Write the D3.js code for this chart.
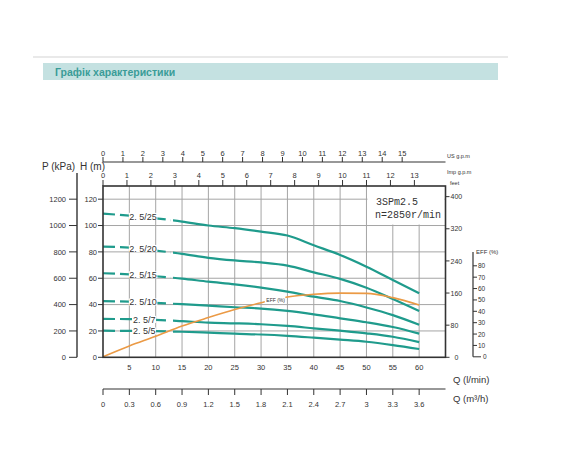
<!DOCTYPE html>
<html>
<head>
<meta charset="utf-8">
<script src="https://cdn.jsdelivr.net/npm/d3@7"></script>
<style>
  body { margin: 0; background: #fff; }
  text { font-family: "Liberation Sans", Arial, sans-serif; fill: #333; }
</style>
</head>
<body>
<div id="chart"></div>
<script>
// flow points (l/min) at which the curves were read
const flow = [0, 5, 10, 15, 20, 25, 30, 35, 40, 45, 50, 55, 60];

// head curves (m) per model
const models = ["2. 5/25", "2. 5/20", "2. 5/15", "2. 5/10", "2. 5/7", "2. 5/5"];
const head25 = [109, 107.5, 105.5, 103, 100, 98, 95.4, 92.4, 85, 77.7, 68.8, 58.7, 48.6];
const head20 = [84, 83.2, 81, 78.5, 75.5, 73.5, 72, 69.6, 64.5, 59.5, 52.8, 44.3, 35.2];
const head15 = [63.8, 63, 61.5, 59.7, 57.4, 55.4, 52.9, 49.8, 46, 42.7, 37.8, 32, 24.7];
const head10 = [42.7, 42.2, 41.3, 40.3, 39.2, 38, 37, 35.2, 32.6, 29.6, 26.6, 23, 18];
const head7 = [29.1, 29, 28.4, 27.4, 26.3, 25.8, 25.1, 23.8, 22, 20.2, 18.2, 15.6, 11.5];
const head5 = [20.2, 20, 19.8, 19.4, 18.7, 17.9, 17.3, 16.3, 14.9, 13.4, 11.8, 9.3, 6.3];
const heads = [head25, head20, head15, head10, head7, head5];
const labelFlow = [5.0, 5.0, 5.0, 5.0, 5.7, 5.7];

// efficiency (%)
const eff = [0, 9.5, 18, 27, 34.5, 41.5, 47.5, 52.5, 55, 56, 55.8, 52, 45.5];

// tick values
const qTicks = [5, 10, 15, 20, 25, 30, 35, 40, 45, 50, 55, 60];
const hTicks = [0, 20, 40, 60, 80, 100, 120];
const pTicks = [0, 200, 400, 600, 800, 1000, 1200];
const feetTicks = [0, 80, 160, 240, 320, 400];
const effTicks = [0, 10, 20, 30, 40, 50, 60, 70, 80];
const usTicks = d3.range(0, 16);
const impTicks = d3.range(0, 14);
const m3Ticks = [0, 0.3, 0.6, 0.9, 1.2, 1.5, 1.8, 2.1, 2.4, 2.7, 3, 3.3, 3.6];

const W = 570, H = 458;
const teal = "#1f9b8c", orange = "#eb9a45", frame = "#333";

const svg = d3.select("#chart").append("svg")
    .attr("width", W).attr("height", H);

// header
svg.append("line").attr("x1", 33).attr("x2", 508).attr("y1", 57).attr("y2", 57)
    .attr("stroke", "#e2e2e2").attr("stroke-width", 1.5);
svg.append("rect").attr("x", 43).attr("y", 63).attr("width", 455).attr("height", 17)
    .attr("fill", "#c4e1e1");
svg.append("text").attr("x", 55).attr("y", 75.5)
    .style("font-size", "10.5px").style("font-weight", "bold").style("fill", "#3a9c98")
    .text("Графік характеристики");

// scales
const x = d3.scaleLinear().domain([0, 65]).range([103, 445.5]);
const y = d3.scaleLinear().domain([0, 130]).range([357.3, 186]);
const yP = d3.scaleLinear().domain([0, 1300]).range(y.range());
const yF = d3.scaleLinear().domain([0, 130 * 3.2808]).range(y.range());
const yE = d3.scaleLinear().domain([0, 80]).range([356.8, 265.8]);
const xUS = d3.scaleLinear().domain([0, 65 / 3.785]).range(x.range());
const xImp = d3.scaleLinear().domain([0, 65 / 4.546]).range(x.range());
const xM3 = d3.scaleLinear().domain([0, 65 * 0.06]).range(x.range());

// grid
const grid = svg.append("g").attr("stroke", "#a5a5a5").attr("stroke-width", 1);
grid.selectAll(".v").data(qTicks).join("line")
    .attr("x1", d => x(d)).attr("x2", d => x(d)).attr("y1", y(130)).attr("y2", y(0));
grid.selectAll(".h").data(hTicks.slice(1)).join("line")
    .attr("x1", x(0)).attr("x2", x(65)).attr("y1", d => y(d)).attr("y2", d => y(d));

// model box
svg.append("rect").attr("x", x(50) + 1).attr("y", y(130) + 1)
    .attr("width", x(65) - x(50) - 2).attr("height", y(100) - y(130) - 2).attr("fill", "#fff");
svg.append("text").attr("x", 376).attr("y", 205)
    .style("font-family", "'Liberation Mono', monospace").style("font-size", "10px").text("3SPm2.5");
svg.append("text").attr("x", 375).attr("y", 218)
    .style("font-family", "'Liberation Mono', monospace").style("font-size", "10px").text("n=2850r/min");

// clip regions for dashed / solid parts
const defs = svg.append("defs");
defs.append("clipPath").attr("id", "clipDash").append("rect")
    .attr("x", 0).attr("y", 0).attr("width", x(12.8)).attr("height", H);
defs.append("clipPath").attr("id", "clipSolid").append("rect")
    .attr("x", x(13.3)).attr("y", 0).attr("width", W).attr("height", H);

const line = d3.line().x((d, i) => x(flow[i])).y(d => y(d)).curve(d3.curveMonotoneX);
const curves = svg.append("g");
heads.forEach(function(h, k) {
    curves.append("path").attr("d", line(h)).attr("fill", "none")
        .attr("stroke", teal).attr("stroke-width", 2.2)
        .attr("stroke-dasharray", "12,5").attr("clip-path", "url(#clipDash)");
    curves.append("path").attr("d", line(h)).attr("fill", "none")
        .attr("stroke", teal).attr("stroke-width", 2.2).attr("clip-path", "url(#clipSolid)");
});

// efficiency curve
const effLine = d3.line().x((d, i) => x(flow[i])).y(d => yE(d)).curve(d3.curveMonotoneX);
svg.append("path").attr("d", effLine(eff)).attr("fill", "none")
    .attr("stroke", orange).attr("stroke-width", 1.6);
svg.append("rect").attr("x", x(30.7)).attr("y", 296).attr("width", x(34.6) - x(30.7)).attr("height", 8)
    .attr("fill", "#fff");
svg.append("text").attr("x", x(31)).attr("y", 302)
    .style("font-size", "5px").text("EFF (%)");

// model labels on the curves
heads.forEach(function(h, k) {
    const i = flow.indexOf(5);
    const ly = y(h[i] + (h[i + 1] - h[i]) * (labelFlow[k] + 1.3 - 5) / 5);
    const t = svg.append("text").attr("x", x(labelFlow[k])).attr("y", ly + 3.2)
        .style("font-size", "9px").text(models[k]);
    const b = t.node().getBBox();
    svg.insert("rect", function() { return t.node(); })
        .attr("x", b.x - 0.5).attr("y", ly - 3.5).attr("width", b.width + 1).attr("height", 7)
        .attr("fill", "#fff");
});

// frame
svg.append("rect").attr("x", x(0)).attr("y", y(130)).attr("width", x(65) - x(0)).attr("height", y(0) - y(130))
    .attr("fill", "none").attr("stroke", frame).attr("stroke-width", 1.6);

const tickFont = "7.5px";

// H axis (left of frame)
svg.append("g").selectAll("g").data(hTicks).join("g").call(function(g) {
    g.append("line").attr("x1", x(0) - 5).attr("x2", x(0)).attr("y1", d => y(d)).attr("y2", d => y(d))
        .attr("stroke", frame);
    g.append("text").attr("x", x(0) - 6).attr("y", d => y(d) + 2.7).attr("text-anchor", "end")
        .style("font-size", tickFont).text(d => d);
});

// P axis
svg.append("line").attr("x1", 77).attr("x2", 77).attr("y1", 173).attr("y2", yP(0))
    .attr("stroke", frame).attr("stroke-width", 1.4);
svg.append("g").selectAll("g").data(pTicks).join("g").call(function(g) {
    g.append("line").attr("x1", 69).attr("x2", 77).attr("y1", d => yP(d)).attr("y2", d => yP(d))
        .attr("stroke", frame);
    g.append("text").attr("x", 66).attr("y", d => yP(d) + 2.7).attr("text-anchor", "end")
        .style("font-size", tickFont).text(d => d);
});
svg.append("text").attr("x", 42).attr("y", 170).style("font-size", "10px").text("P (kPa)");
svg.append("text").attr("x", 80).attr("y", 170).style("font-size", "10px").text("H (m)");

// feet axis (right of frame)
svg.append("g").selectAll("g").data(feetTicks).join("g").call(function(g) {
    g.append("line").attr("x1", x(65)).attr("x2", x(65) + 4).attr("y1", d => yF(d)).attr("y2", d => yF(d))
        .attr("stroke", frame);
    g.append("text").attr("x", d => d === 0 ? x(65) + 9 : x(65) + 5).attr("y", d => yF(d) + 2.7)
        .style("font-size", "7px").text(d => d);
});

// EFF axis
svg.append("line").attr("x1", 473).attr("x2", 473).attr("y1", 252).attr("y2", yE(0))
    .attr("stroke", frame).attr("stroke-width", 1.2);
svg.append("g").selectAll("g").data(effTicks).join("g").call(function(g) {
    g.append("line").attr("x1", 473).attr("x2", d => d === 0 ? 481 : 477)
        .attr("y1", d => yE(d)).attr("y2", d => yE(d)).attr("stroke", frame);
    g.append("text").attr("x", d => d === 0 ? 483 : 478).attr("y", d => yE(d) + 2.5)
        .style("font-size", "6.5px").text(d => d);
});
svg.append("text").attr("x", 476).attr("y", 254).style("font-size", "6px").text("EFF (%)");

// Q (l/min) tick labels
svg.append("g").selectAll("text").data(qTicks).join("text")
    .attr("x", d => x(d)).attr("y", 370).attr("text-anchor", "middle")
    .style("font-size", tickFont).text(d => d);
svg.append("text").attr("x", 453).attr("y", 383).style("font-size", "9.5px").text("Q (l/min)");

// US gpm axis
svg.append("line").attr("x1", x(0)).attr("x2", x(65)).attr("y1", 162).attr("y2", 162)
    .attr("stroke", frame).attr("stroke-width", 1.2);
svg.append("g").selectAll("g").data(usTicks).join("g").call(function(g) {
    g.append("line").attr("x1", d => xUS(d)).attr("x2", d => xUS(d)).attr("y1", 157).attr("y2", 162)
        .attr("stroke", frame);
    g.append("text").attr("x", d => xUS(d)).attr("y", 155.5).attr("text-anchor", "middle")
        .style("font-size", tickFont).text(d => d);
});
svg.append("text").attr("x", 447).attr("y", 158).style("font-size", "5.5px").text("US g.p.m");

// Imp gpm axis (on the frame top)
svg.append("g").selectAll("g").data(impTicks).join("g").call(function(g) {
    g.append("line").attr("x1", d => xImp(d)).attr("x2", d => xImp(d)).attr("y1", 180).attr("y2", 186)
        .attr("stroke", frame);
    g.append("text").attr("x", d => xImp(d)).attr("y", 178).attr("text-anchor", "middle")
        .style("font-size", tickFont).text(d => d);
});
svg.append("text").attr("x", 447).attr("y", 174).style("font-size", "5.5px").text("Imp g.p.m");
svg.append("text").attr("x", 450).attr("y", 184.5).style("font-size", "5.5px").text("feet");

// m3/h axis
svg.append("line").attr("x1", x(0)).attr("x2", x(65)).attr("y1", 389).attr("y2", 389)
    .attr("stroke", frame).attr("stroke-width", 1.2);
svg.append("g").selectAll("g").data(m3Ticks).join("g").call(function(g) {
    g.append("line").attr("x1", d => xM3(d)).attr("x2", d => xM3(d)).attr("y1", 389).attr("y2", 395)
        .attr("stroke", frame);
    g.append("text").attr("x", d => xM3(d)).attr("y", 407).attr("text-anchor", "middle")
        .style("font-size", tickFont).text(d => d);
});
svg.append("text").attr("x", 453).attr("y", 402).style("font-size", "9.5px")
    .text("Q (m³/h)");
</script>
</body>
</html>
